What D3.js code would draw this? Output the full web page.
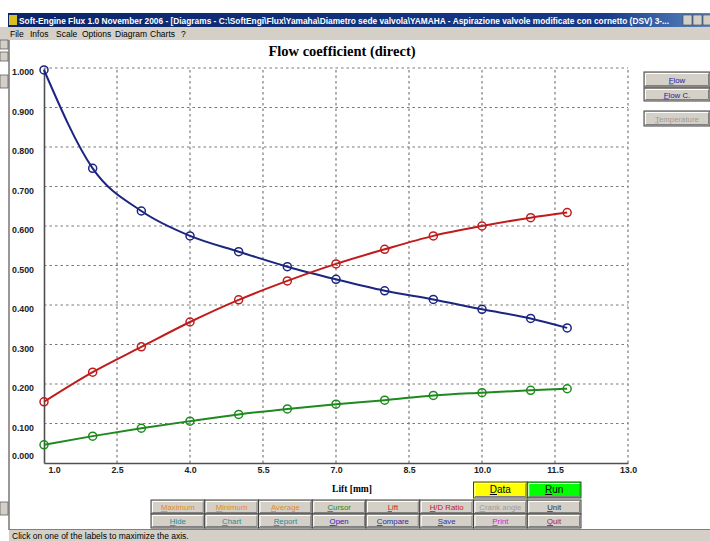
<!DOCTYPE html>
<html>
<head>
<meta charset="utf-8">
<script src="https://cdn.jsdelivr.net/npm/d3@7"></script>
<style>
  body { margin: 0; background: #fff; }
  svg { display: block; }
</style>
</head>
<body>
<script>
// lift values [mm] and the three curves
var lift = [1, 2, 3, 4, 5, 6, 7, 8, 9, 10, 11, 11.75];
var blueSeries = [0.995, 0.746, 0.638, 0.575, 0.535, 0.497, 0.465, 0.436, 0.414, 0.389, 0.366, 0.342];
var redSeries = [0.155, 0.230, 0.294, 0.357, 0.413, 0.461, 0.504, 0.541, 0.575, 0.600, 0.621, 0.634];
var greenSeries = [0.046, 0.068, 0.088, 0.106, 0.123, 0.137, 0.149, 0.159, 0.171, 0.178, 0.184, 0.188];

var xTicks = [1.0, 2.5, 4.0, 5.5, 7.0, 8.5, 10.0, 11.5, 13.0];
var yTicks = [0, 0.1, 0.2, 0.3, 0.4, 0.5, 0.6, 0.7, 0.8, 0.9, 1.0];

var menuItems = ['File', 'Infos', 'Scale', 'Options', 'Diagram', 'Charts', '?'];
var menuX = [10, 30, 56, 82, 115, 150, 181];
var buttonRow1 = ['Maximum', 'Minimum', 'Average', 'Cursor', 'Lift', 'H/D Ratio', 'Crank angle', 'Unit'];
var buttonRow2 = ['Hide', 'Chart', 'Report', 'Open', 'Compare', 'Save', 'Print', 'Quit'];
var colorRow1 = ['#e8881a', '#e8881a', '#e8881a', '#1a8a1a', '#c81818', '#c81818', '#a09c94', '#303030'];
var colorRow2 = ['#1a8a9a', '#1a8a9a', '#1a8a9a', '#2020c0', '#2a2aa0', '#3030b0', '#d020d0', '#b01818'];

var W = 710, H = 541;
var svg = d3.select('body').append('svg')
  .attr('width', W)
  .attr('height', H);

svg.append('rect').attr('x', 0).attr('y', 0).attr('width', W).attr('height', H).attr('fill', '#fff');

// ---- window chrome ----
var grad = svg.append('defs').append('linearGradient').attr('id', 'tbar');
grad.append('stop').attr('offset', '0%').attr('stop-color', '#0a246a');
grad.append('stop').attr('offset', '85%').attr('stop-color', '#173a86');
grad.append('stop').attr('offset', '100%').attr('stop-color', '#5a86c0');

svg.append('rect').attr('x', 8).attr('y', 13).attr('width', W - 8).attr('height', 14).attr('fill', 'url(#tbar)');
svg.append('rect').attr('x', 9).attr('y', 15).attr('width', 8).attr('height', 10).attr('fill', '#d8c020');
svg.append('text')
  .attr('x', 19).attr('y', 24)
  .attr('font-family', 'Liberation Sans Narrow, Liberation Sans, Arial, sans-serif')
  .attr('font-size', 8.6).attr('font-weight', 'bold').attr('fill', '#fff')
  .attr('textLength', 650).attr('lengthAdjust', 'spacingAndGlyphs')
  .text('Soft-Engine Flux 1.0 November 2006 - [Diagrams - C:\\SoftEngi\\Flux\\Yamaha\\Diametro sede valvola\\YAMAHA - Aspirazione valvole modificate con cornetto (DSV) 3-...');
[683, 693, 703].forEach(function(bx) {
  svg.append('rect').attr('x', bx).attr('y', 15).attr('width', 9).attr('height', 10)
    .attr('fill', '#d4d0c8').attr('stroke', '#404040').attr('stroke-width', 0.6);
});

svg.append('rect').attr('x', 0).attr('y', 27).attr('width', W).attr('height', 13).attr('fill', '#d4d0c8');
svg.selectAll('text.menu').data(menuItems).enter().append('text')
  .attr('class', 'menu')
  .attr('x', function(d, i) { return menuX[i]; })
  .attr('y', 37)
  .attr('font-family', 'Liberation Sans Narrow, Liberation Sans, Arial, sans-serif')
  .attr('font-size', 8.5).attr('fill', '#000')
  .text(function(d) { return d; });

// left strip with pieces of another window
svg.append('line').attr('x1', 9).attr('y1', 40).attr('x2', 9).attr('y2', 530).attr('stroke', '#303030').attr('stroke-width', 1);
[[40, 49], [52, 61], [75, 88], [502, 515]].forEach(function(b) {
  svg.append('rect').attr('x', 0).attr('y', b[0]).attr('width', 8).attr('height', b[1] - b[0])
    .attr('fill', '#d4d0c8').attr('stroke', '#606060').attr('stroke-width', 0.8);
});

// status bar
svg.append('rect').attr('x', 9).attr('y', 529).attr('width', W - 9).attr('height', 12).attr('fill', '#d4d0c8');
svg.append('line').attr('x1', 9).attr('y1', 529.5).attr('x2', W).attr('y2', 529.5).attr('stroke', '#808080');
svg.append('text')
  .attr('x', 12).attr('y', 538.5)
  .attr('font-family', 'Liberation Sans, Arial, sans-serif')
  .attr('font-size', 8.5).attr('fill', '#000')
  .text('Click on one of the labels to maximize the axis.');

// ---- chart ----
var x = d3.scaleLinear().domain([1, 13]).range([44, 628]);
var y = d3.scaleLinear().domain([0, 1]).range([463, 68]);

svg.append('text')
  .attr('x', 342).attr('y', 56)
  .attr('text-anchor', 'middle')
  .attr('font-family', 'Liberation Serif, Times New Roman, serif')
  .attr('font-size', 14.5).attr('font-weight', 'bold').attr('fill', '#000')
  .text('Flow coefficient (direct)');

var grid = svg.append('g');
grid.selectAll('line.h').data(yTicks.filter(function(v) { return v > 0; })).enter().append('line')
  .attr('x1', x(1)).attr('x2', x(13))
  .attr('y1', function(d) { return y(d); }).attr('y2', function(d) { return y(d); })
  .attr('stroke', '#7a7a7a').attr('stroke-width', 1.2).attr('stroke-dasharray', '2.5,3');
grid.selectAll('line.v').data(xTicks.filter(function(v) { return v > 1; })).enter().append('line')
  .attr('y1', y(0)).attr('y2', y(1))
  .attr('x1', function(d) { return x(d); }).attr('x2', function(d) { return x(d); })
  .attr('stroke', '#7a7a7a').attr('stroke-width', 1.2).attr('stroke-dasharray', '2.5,3');

var xAxis = d3.axisBottom(x).tickValues(xTicks).tickSize(0).tickFormat(d3.format('.1f'));
var gx = svg.append('g').attr('transform', 'translate(0,' + y(0) + ')').call(xAxis);
gx.select('.domain').attr('stroke', '#505050').attr('stroke-width', 1.6);
gx.selectAll('text')
  .attr('dy', 0).attr('y', 10)
  .attr('dx', function(d) { return d === 1 ? 10 : 0; })
  .attr('font-family', 'Liberation Sans, Arial, sans-serif')
  .attr('font-size', 8.8).attr('font-weight', 'bold').attr('fill', '#222');

var yAxis = d3.axisLeft(y).tickValues(yTicks).tickSize(0).tickFormat(d3.format('.3f'));
var gy = svg.append('g').attr('transform', 'translate(' + x(1) + ',0)').call(yAxis);
gy.select('.domain').attr('stroke', '#505050').attr('stroke-width', 1.6);
gy.selectAll('text')
  .attr('text-anchor', 'start')
  .attr('x', -32)
  .attr('dy', function(d) { return d === 0 ? '-0.55em' : '0.75em'; })
  .attr('font-family', 'Liberation Sans, Arial, sans-serif')
  .attr('font-size', 8.8).attr('font-weight', 'bold').attr('fill', '#222');

svg.append('text')
  .attr('x', 352).attr('y', 492)
  .attr('text-anchor', 'middle')
  .attr('font-family', 'Liberation Serif, Times New Roman, serif')
  .attr('font-size', 9.5).attr('font-weight', 'bold').attr('fill', '#000')
  .text('Lift [mm]');

var series = [
  { values: blueSeries, color: '#1c2580' },
  { values: redSeries, color: '#c01c1c' },
  { values: greenSeries, color: '#1e8a1e' }
];
var line = d3.line()
  .x(function(d) { return x(d[0]); })
  .y(function(d) { return y(d[1]); })
  .curve(d3.curveMonotoneX);

series.forEach(function(s) {
  var pts = lift.map(function(l, i) { return [l, s.values[i]]; });
  svg.append('path').datum(pts)
    .attr('d', line)
    .attr('fill', 'none')
    .attr('stroke', s.color)
    .attr('stroke-width', 2);
  svg.selectAll(null).data(pts).enter().append('circle')
    .attr('cx', function(d) { return x(d[0]); })
    .attr('cy', function(d) { return y(d[1]); })
    .attr('r', 4)
    .attr('fill', 'none')
    .attr('stroke', s.color)
    .attr('stroke-width', 1.5);
});

// ---- buttons ----
function button(bx, by, bw, bh, label, color, fill, underline) {
  var g = svg.append('g');
  g.append('rect').attr('x', bx).attr('y', by).attr('width', bw).attr('height', bh)
    .attr('fill', fill).attr('stroke', '#404040').attr('stroke-width', 1);
  g.append('path')
    .attr('d', 'M' + (bx + 1.5) + ',' + (by + bh - 1.5) + 'V' + (by + 1.5) + 'H' + (bx + bw - 1.5))
    .attr('fill', 'none').attr('stroke', '#fff').attr('stroke-width', 1);
  g.append('path')
    .attr('d', 'M' + (bx + 1.5) + ',' + (by + bh - 1.5) + 'H' + (bx + bw - 1.5) + 'V' + (by + 1.5))
    .attr('fill', 'none').attr('stroke', '#808080').attr('stroke-width', 1);
  var t = g.append('text')
    .attr('x', bx + bw / 2).attr('y', by + bh / 2 + 3)
    .attr('text-anchor', 'middle')
    .attr('font-family', 'Liberation Sans, Arial, sans-serif')
    .attr('font-size', 7.8).attr('fill', color);
  t.append('tspan').attr('text-decoration', underline ? 'underline' : 'none').text(label.charAt(0));
  t.append('tspan').text(label.slice(1));
  return g;
}

var colX = d3.range(9).map(function(i) { return 151 + i * 53.75; });
buttonRow1.forEach(function(b, i) {
  button(colX[i], 500, colX[i + 1] - colX[i], 14, b, colorRow1[i], '#d4d0c8', true);
});
buttonRow2.forEach(function(b, i) {
  button(colX[i], 514, colX[i + 1] - colX[i], 14, b, colorRow2[i], '#d4d0c8', true);
});
button(colX[6], 482, colX[7] - colX[6], 16, 'Data', '#000', '#ffff00', true).select('text').attr('font-size', 10);
button(colX[7], 482, colX[8] - colX[7], 16, 'Run', '#000', '#00ff00', true).select('text').attr('font-size', 10);

button(644, 72, 66, 15, 'Flow', '#2020a0', '#d4d0c8', true);
button(644, 88, 66, 13, 'Flow C.', '#2020a0', '#d4d0c8', true);
button(644, 111, 66, 15, 'Temperature', '#a09c94', '#d4d0c8', true);
</script>
</body>
</html>
